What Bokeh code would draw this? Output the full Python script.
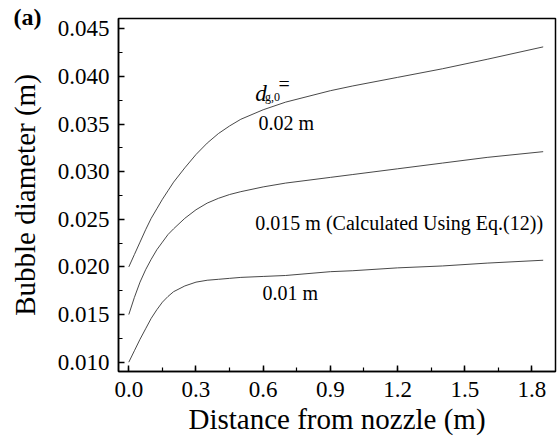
from bokeh.plotting import figure
from bokeh.models import Label, SingleIntervalTicker, PrintfTickFormatter, Range1d
from bokeh.embed import file_html
from bokeh.resources import INLINE

# Data
distance = [0, 0.025, 0.05, 0.075, 0.1, 0.125, 0.15, 0.175, 0.2, 0.25, 0.3, 0.35, 0.4, 0.45, 0.5,
            0.6, 0.7, 0.8, 0.9, 1.0, 1.2, 1.4, 1.6, 1.85]
d_020 = [0.0200, 0.0213, 0.0226, 0.0239, 0.0251, 0.0261, 0.0271, 0.0280, 0.0289, 0.0304, 0.0318,
         0.0330, 0.0340, 0.0348, 0.0355, 0.0365, 0.0373, 0.0379, 0.0385, 0.0390, 0.0399, 0.0408,
         0.0418, 0.0431]
d_015 = [0.0150, 0.0168, 0.0184, 0.0197, 0.0208, 0.0218, 0.0226, 0.0234, 0.0240, 0.0251, 0.0260,
         0.0267, 0.0272, 0.0276, 0.0279, 0.0284, 0.0288, 0.0291, 0.0294, 0.0297, 0.0303, 0.0309,
         0.0315, 0.0321]
d_010 = [0.0100, 0.0112, 0.0124, 0.0135, 0.0146, 0.0155, 0.0163, 0.0169, 0.0174, 0.0180, 0.0184,
         0.0186, 0.0187, 0.0188, 0.0189, 0.0190, 0.0191, 0.0193, 0.0195, 0.0196, 0.0199, 0.0201,
         0.0204, 0.0207]

FONT = "'Liberation Serif'"

p = figure(width=557, height=440, output_backend="svg", toolbar_location=None,
           x_range=Range1d(-0.046, 1.905), y_range=Range1d(0.00902, 0.04608),
           min_border_left=118, min_border_right=2, min_border_top=18, min_border_bottom=69)
p.background_fill_color = "white"
p.border_fill_color = "white"
p.outline_line_color = "black"
p.outline_line_width = 1.5
p.xgrid.visible = False
p.ygrid.visible = False

# panel tag "(a)" as the title, pulled left of the frame and down beside it
p.title.text = "(a)"
p.title.text_font = FONT
p.title.text_font_size = "24px"
p.title.text_font_style = "bold"
p.title.text_color = "black"
p.title.align = "left"
p.title.vertical_align = "bottom"
p.title.offset = -105
p.title.standoff = -22

for ys in (d_020, d_015, d_010):
    p.line(distance, ys, line_color="#333333", line_width=0.9)

p.xaxis.ticker = SingleIntervalTicker(interval=0.3, num_minor_ticks=2)
p.yaxis.ticker = SingleIntervalTicker(interval=0.005, num_minor_ticks=2)
p.xaxis.formatter = PrintfTickFormatter(format="%.1f")
p.yaxis.formatter = PrintfTickFormatter(format="%.3f")

for ax in (p.xaxis[0], p.yaxis[0]):
    ax.axis_line_width = 1.5
    ax.axis_line_color = "black"
    ax.major_tick_in = 6
    ax.major_tick_out = 0
    ax.minor_tick_in = 4
    ax.minor_tick_out = 0
    ax.major_tick_line_width = 1.5
    ax.minor_tick_line_width = 1.2
    ax.major_label_text_font = FONT
    ax.major_label_text_font_size = "23px"
    ax.major_label_text_color = "black"
    ax.axis_label_text_font = FONT
    ax.axis_label_text_font_size = "29px"
    ax.axis_label_text_font_style = "normal"
    ax.axis_label_text_color = "black"

p.xaxis.axis_label = "Distance from nozzle (m)"
p.yaxis.axis_label = "Bubble diameter (m)"
p.xaxis.major_label_standoff = 10
p.xaxis.axis_label_standoff = 3
p.yaxis.major_label_standoff = 9
p.yaxis.axis_label_standoff = 14

def lab(x, y, text, size="20px", style="normal", baseline="middle"):
    p.add_layout(Label(x=x, y=y, text=text, text_font=FONT, text_font_size=size,
                       text_font_style=style, text_baseline=baseline, text_color="black"))

lab(0.565, 0.03821, "d", size="23px", style="italic", baseline="alphabetic")
lab(0.608, 0.03780, "g,0", size="12px", baseline="alphabetic")
lab(0.668, 0.03920, "=", size="20px", baseline="alphabetic")
lab(0.579, 0.03516, "0.02 m")
lab(0.565, 0.02456, "0.015 m (Calculated Using Eq.(12))")
lab(0.597, 0.01721, "0.01 m")

open("out.html", "w").write(file_html(p, INLINE))
